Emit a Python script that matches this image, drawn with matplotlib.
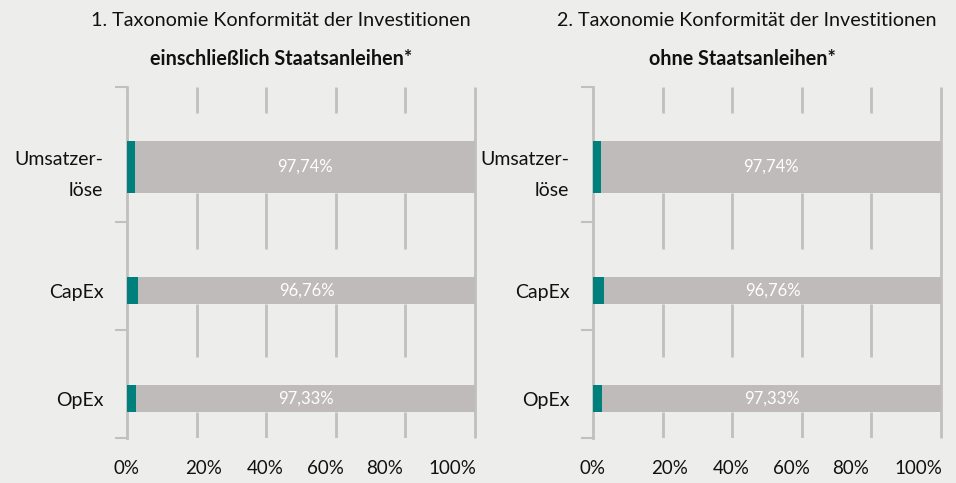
import numpy as np
import matplotlib.pyplot as plt

plt.rcParams['font.family'] = ['Lato', 'DejaVu Sans']

categories = ['Umsatzer-\nlöse', 'CapEx', 'OpEx']
titles = ['1. Taxonomie Konformität der Investitionen',
          '2. Taxonomie Konformität der Investitionen']
subtitles = ['einschließlich Staatsanleihen*', 'ohne Staatsanleihen*']
# not aligned share (gray), per panel
gray_vals = [[97.74, 96.76, 97.33],
             [97.74, 96.76, 97.33]]
tick_labels = ['0%', '20%', '40%', '60%', '80%', '100%']

bg = '#EDEDEB'
teal = '#00807C'
gray = '#BFBBBA'
grid_c = '#C2C0BF'
txt = '#111111'

# layout of the category bands (top to bottom)
ypos = np.array([0.74, 1.885, 2.885])
heights = np.array([0.48, 0.25, 0.25])
band_edges = [0, 1.25, 2.25, 3.25]
tick_pos = [0, 22.1, 39.7, 57.0, 74.1, 93.4]

fig = plt.figure(figsize=(9.56, 4.83), dpi=100, facecolor=bg)
lefts = [127 / 956, 593 / 956]
title_x = [281 / 956, 747 / 956]

for k in range(2):
    ax = fig.add_axes([lefts[k], 1 - 438 / 483, 348 / 956, 351 / 483])
    ax.set_facecolor(bg)
    g = np.array(gray_vals[k])
    t = 100 - g
    ax.set_xlim(0, 100)
    ax.set_ylim(3.25, 0)

    # broken gridlines: gap just above each bar
    tops = ypos - heights / 2
    bots = ypos + heights / 2
    starts = [0] + list(bots)
    ends = list(tops - 0.26) + [3.25]
    for x in [20, 40, 60, 80]:
        for s, e in zip(starts, ends):
            ax.plot([x, x], [s, e], color=grid_c, lw=2, zorder=1,
                    solid_capstyle='butt')
    ax.plot([100, 100], [0, 3.25], color=grid_c, lw=2, zorder=1,
            clip_on=False, solid_capstyle='butt')

    ax.barh(ypos, t, height=heights, color=teal, zorder=3)
    ax.barh(ypos, g, left=t, height=heights, color=gray, zorder=3)
    for y, tv, gv in zip(ypos, t, g):
        ax.text(tv + gv / 2, y, f'{gv:.2f}%'.replace('.', ','),
                color='white', ha='center', va='center', fontsize=12, zorder=4)

    for s in ['top', 'bottom', 'right']:
        ax.spines[s].set_visible(False)
    ax.spines['left'].set_color(grid_c)
    ax.spines['left'].set_linewidth(2)

    ax.set_yticks(band_edges)
    ax.set_yticklabels([])
    ax.tick_params(axis='y', which='major', length=9, width=1.5, color=grid_c)
    ax.set_yticks(ypos, minor=True)
    ax.set_yticklabels(categories, minor=True, fontsize=14, color=txt,
                       linespacing=1.95)
    ax.tick_params(axis='y', which='minor', length=0, pad=17)

    ax.set_xticks(tick_pos)
    ax.set_xticklabels(tick_labels, fontsize=13.5, color=txt)
    ax.tick_params(axis='x', length=0, pad=16)

    fig.text(title_x[k], 1 - 21 / 483, titles[k], ha='center', va='center',
             fontsize=14.2, color=txt)
    fig.text(title_x[k] - 5 / 956 * k, 1 - 59 / 483, subtitles[k], ha='center',
             va='center', fontsize=14.2, fontweight='bold', color=txt)

fig.savefig('out.png', dpi=100, facecolor=bg)
